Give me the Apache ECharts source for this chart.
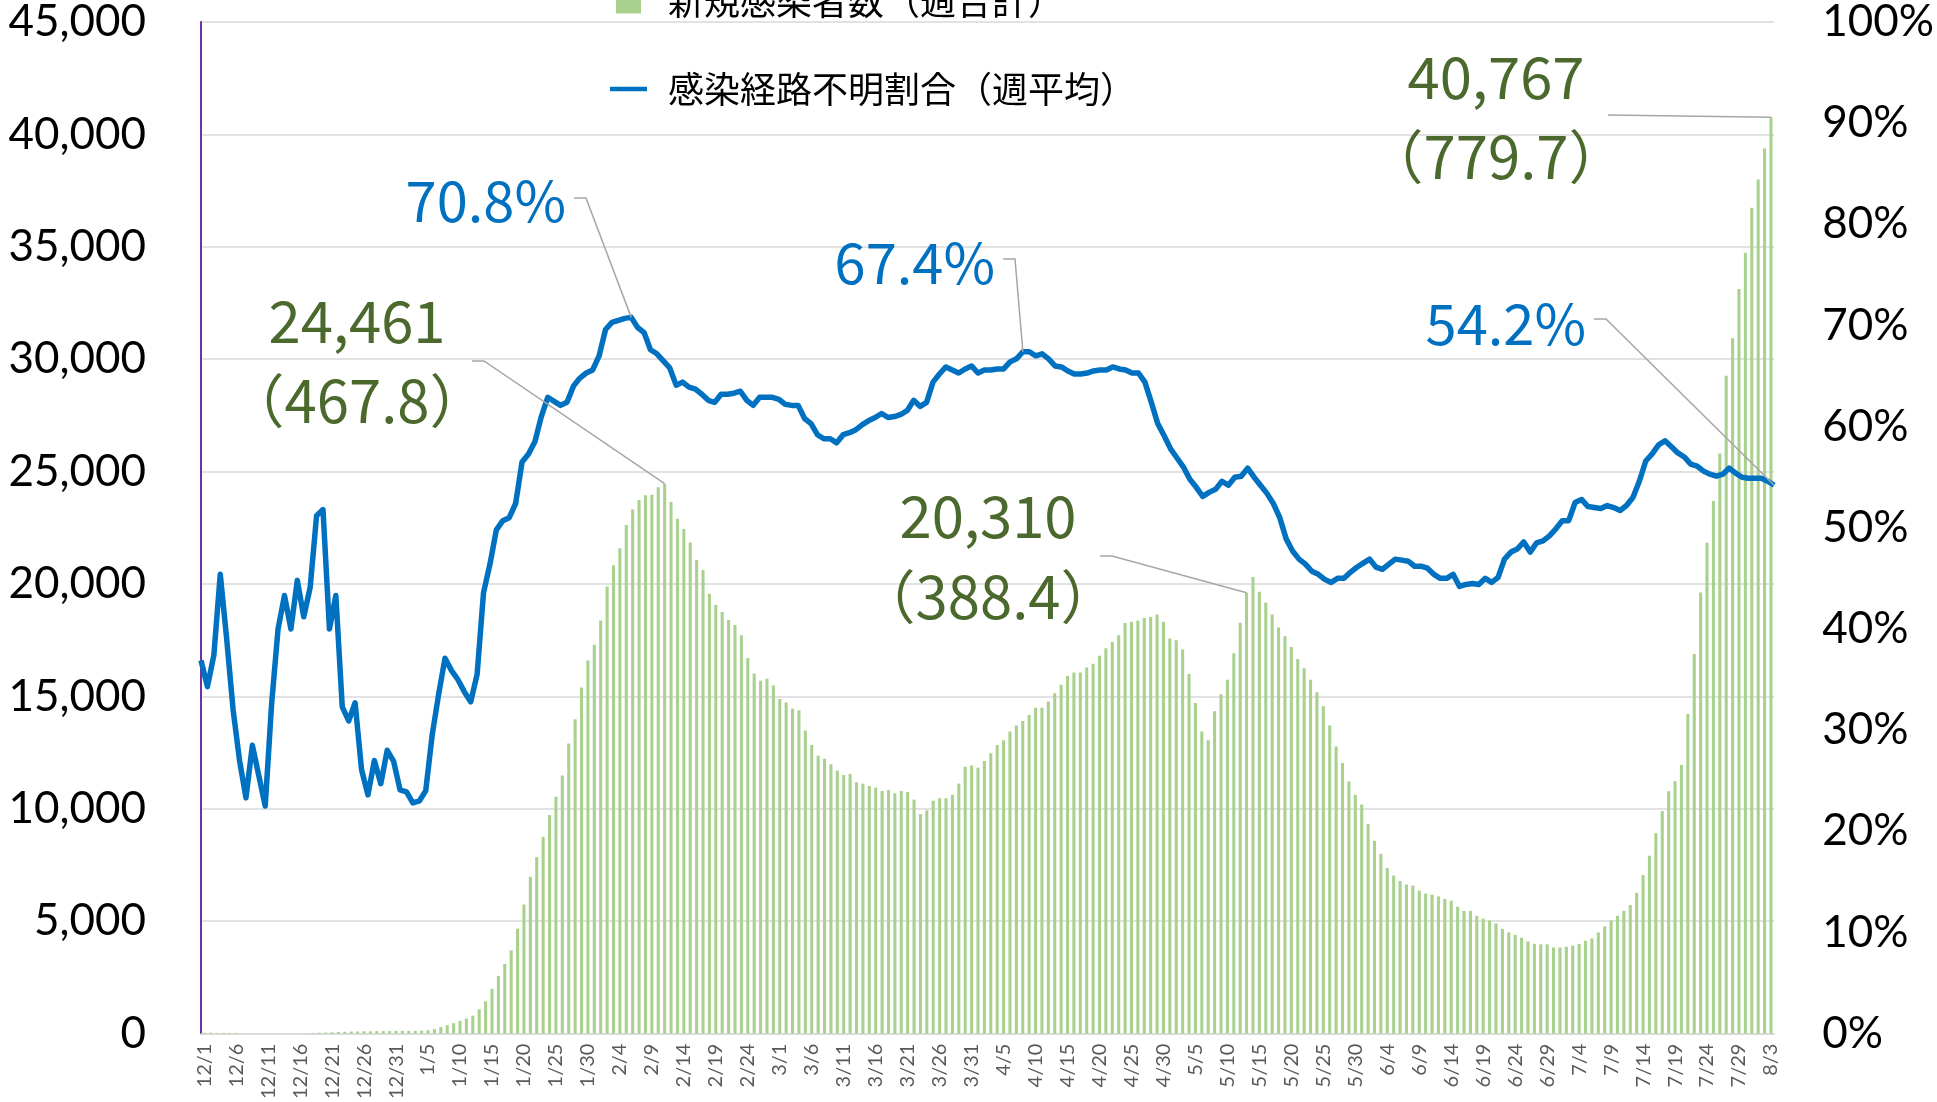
<!DOCTYPE html>
<html><head><meta charset="utf-8">
<script src="https://cdn.jsdelivr.net/npm/echarts/dist/echarts.min.js"></script>
<style>html,body{margin:0;padding:0;background:#fff}#c{width:1937px;height:1102px}</style>
</head><body><div id="c"></div>
<script>
// ---- categories (12/1 .. 8/3) ----
const months = [[12,31],[1,31],[2,28],[3,31],[4,30],[5,31],[6,30],[7,31],[8,3]];
const categories = [];
months.forEach(([m,n]) => { for (let d = 1; d <= n; d++) categories.push(m + '/' + d); });

// ---- 新規感染者数（週合計） by month ----
const casesDec = [40,40,30,30,30,30,0,0,0,0,0,0,0,0,0,0,0,30,40,50,60,70,80,90,90,100,100,110,110,110,120];
const casesJan = [120,120,120,130,150,200,290,370,465,570,670,800,1075,1435,1990,2565,3100,3700,4670,5740,6970,7850,8750,9720,10540,11480,12900,13980,15400,16600,17300];
const casesFeb = [18380,19890,20830,21590,22620,23310,23740,23950,23970,24300,24461,23650,22900,22450,21840,21070,20620,19570,19070,18750,18400,18170,17720,16710,16020,15700,15780,15480];
const casesMar = [14880,14730,14450,14380,13480,12840,12360,12230,11980,11700,11500,11550,11180,11120,11010,10940,10790,10840,10690,10790,10750,10410,9760,9930,10360,10470,10470,10620,11120,11870,11930];
const casesApr = [11830,12130,12470,12840,13050,13440,13700,13910,14170,14490,14490,14770,15140,15520,15910,16060,16060,16280,16450,16810,17140,17420,17720,18260,18320,18380,18490,18530,18640,18320];
const casesMay = [17570,17500,17090,16000,14710,13440,13050,14340,15090,15740,16920,18280,19610,20310,19650,19180,18640,18060,17670,17200,16660,16250,15740,15180,14560,13700,12770,12040,11220,10620,10190];
const casesJun = [9330,8580,8000,7370,7030,6790,6630,6580,6360,6230,6180,6100,5990,5910,5640,5460,5460,5240,5110,5030,4900,4660,4500,4390,4260,4100,3990,3970,3970,3830];
const casesJul = [3830,3860,3910,3990,4130,4230,4500,4770,5030,5240,5460,5720,6260,7050,7910,8920,9900,10780,11230,11950,14220,16880,19620,21830,23690,25800,29260,30930,33120,34740,36740];
const casesAug = [37990,39370,40767];

// ---- 感染経路不明割合（週平均） % by month ----
const rateDec = [36.9,34.3,37.4,45.4,39.0,32.0,27.0,23.3,28.5,25.5,22.5,32.6,40.0,43.3,40.0,44.8,41.2,44.1,51.2,51.8,40.0,43.3,32.3,30.9,32.7,26.1,23.6,27.0,24.7,28.0,26.9];
const rateJan = [24.1,23.9,22.8,23.0,24.0,29.5,33.5,37.1,35.9,35.0,33.8,32.8,35.5,43.6,46.4,49.8,50.7,51.0,52.4,56.5,57.3,58.5,61.0,62.9,62.5,62.1,62.4,64.0,64.8,65.3,65.6];
const rateFeb = [67.0,69.6,70.3,70.5,70.7,70.8,69.8,69.3,67.6,67.2,66.5,65.8,64.1,64.4,63.9,63.7,63.2,62.6,62.4,63.2,63.2,63.3,63.5,62.6,62.1,62.9,62.9,62.9];
const rateMar = [62.7,62.2,62.1,62.1,60.8,60.3,59.2,58.8,58.8,58.4,59.2,59.4,59.7,60.2,60.6,60.9,61.3,60.9,61.0,61.2,61.6,62.6,62.0,62.4,64.4,65.2,65.9,65.6,65.3,65.7,66.0];
const rateApr = [65.3,65.6,65.6,65.7,65.7,66.4,66.7,67.4,67.4,67.0,67.2,66.7,66.0,65.9,65.5,65.2,65.2,65.3,65.5,65.6,65.6,65.9,65.7,65.6,65.3,65.3,64.4,62.4,60.3,59.1];
const rateMay = [57.8,56.9,56.0,54.8,54.0,53.1,53.5,53.8,54.6,54.2,55.0,55.1,55.9,55.0,54.2,53.4,52.4,51.0,48.9,47.7,46.9,46.4,45.7,45.4,44.9,44.6,45.0,45.0,45.6,46.1,46.5];
const rateJun = [46.9,46.1,45.9,46.4,46.9,46.8,46.7,46.2,46.2,46.0,45.4,45.0,45.0,45.4,44.2,44.4,44.5,44.4,45.0,44.6,45.1,46.9,47.6,47.9,48.6,47.6,48.5,48.7,49.2,49.9];
const rateJul = [50.7,50.7,52.5,52.8,52.1,52.0,51.9,52.2,52.0,51.7,52.2,53.0,54.6,56.6,57.3,58.2,58.6,58.0,57.4,57.0,56.3,56.1,55.6,55.3,55.1,55.3,55.9,55.4,55.0,54.9,54.9];
const rateAug = [54.9,54.6,54.2];

const weeklyCases = [].concat(casesDec,casesJan,casesFeb,casesMar,casesApr,casesMay,casesJun,casesJul,casesAug);
const unknownRate = [].concat(rateDec,rateJan,rateFeb,rateMar,rateApr,rateMay,rateJun,rateJul,rateAug);

// ---- tick labels ----
const leftTicks = [0, 45000, 5000];
const rightTicks = [0, 100, 10];

// ---- callouts (label text + which data point they point at) ----
const rateCallouts = [
  {text:'70.8%', idx:67},
  {text:'67.4%', idx:128},
  {text:'54.2%', idx:245}
];
const caseCallouts = [
  {text:['24,461','（467.8）'], idx:72},
  {text:['20,310','（388.4）'], idx:163},
  {text:['40,767','（779.7）'], idx:245}
];

const NAME_BAR = '新規感染者数（週合計）';
const NAME_LINE = '感染経路不明割合（週平均）';

const chart = echarts.init(document.getElementById('c'));
chart.setOption({
  animation:false,
  backgroundColor:'#fff',
  grid:{left:201, right:154, top:22, bottom:66, containLabel:false},
  legend:{
    orient:'vertical', left:605, top:-25, itemGap:46, itemWidth:37, itemHeight:25,
    symbolKeepAspect:true,
    data:[{name:NAME_BAR, icon:'path://M0,0h25v25h-25z'},{name:NAME_LINE, icon:'path://M0,0h37v4.5h-37z'}],
    textStyle:{fontFamily:'Noto Sans CJK JP', fontSize:36, color:'#000', lineHeight:42, padding:[0,0,0,16]}
  },
  xAxis:[
    {type:'category', data:categories, boundaryGap:true,
     axisLine:{lineStyle:{color:'#d9d9d9', width:1.5}}, axisTick:{show:false},
     axisLabel:{interval:4, rotate:90, color:'#595959', fontFamily:'Lato', fontSize:20, margin:10}},
    {type:'category', data:categories, boundaryGap:false, show:false}
  ],
  yAxis:[
    {type:'value', min:leftTicks[0], max:leftTicks[1], interval:leftTicks[2], position:'left',
     axisLine:{show:true, lineStyle:{color:'#7030A0', width:2}}, axisTick:{show:false},
     splitLine:{lineStyle:{color:'#d9d9d9', width:1.5}},
     axisLabel:{margin:55, color:'#000', fontFamily:'Lato', fontSize:44, formatter:v => v.toLocaleString('en-US')}},
    {type:'value', min:rightTicks[0], max:rightTicks[1], interval:rightTicks[2], position:'right',
     splitLine:{show:false}, axisLine:{show:false}, axisTick:{show:false},
     axisLabel:{margin:48, color:'#000', fontFamily:'Lato', fontSize:44, formatter:'{value}%'}}
  ],
  series:[
    {name:NAME_BAR, type:'bar', data:weeklyCases, xAxisIndex:0, yAxisIndex:0, barWidth:'48%',
     itemStyle:{color:'#A9D18E'}},
    {name:NAME_LINE, type:'line', data:unknownRate, xAxisIndex:1, yAxisIndex:1, symbol:'none', showSymbol:false,
     lineStyle:{color:'#0070C0', width:5.5, join:'round'}, itemStyle:{color:'#0070C0'}, z:3}
  ]
});

// ---- callout layout (label anchors), leader lines end at data points ----
const rateLayout = [
  {tx:566, ty:201, sx:574, sy:198},
  {tx:995, ty:263, sx:1003, sy:259},
  {tx:1586, ty:324, sx:1594, sy:319}
];
const caseLayout = [
  {cx:357, ty:[321,401], sx:472, sy:361},
  {cx:988, ty:[516,597], sx:1100, sy:556},
  {cx:1496, ty:[77,157], sx:1608, sy:115, noStub:true}
];
const FONT_RATE = '56px "Noto Sans CJK JP"';
const FONT_CASE = '58px "Noto Sans CJK JP"';
const elements = [];
rateCallouts.forEach((c, k) => {
  const L = rateLayout[k];
  const p = chart.convertToPixel({xAxisIndex:1, yAxisIndex:1}, [c.idx, unknownRate[c.idx]]);
  elements.push({type:'text', z:10, style:{text:c.text, x:L.tx, y:L.ty, font:FONT_RATE, fill:'#0070C0', align:'right', verticalAlign:'middle', textAlign:'right', textVerticalAlign:'middle'}});
  elements.push({type:'polyline', z:9, shape:{points:[[L.sx,L.sy],[L.sx+12,L.sy],p]}, style:{stroke:'#A6A6A6', lineWidth:1.5, fill:null}});
});
caseCallouts.forEach((c, k) => {
  const L = caseLayout[k];
  const p = chart.convertToPixel({xAxisIndex:0, yAxisIndex:0}, [c.idx, weeklyCases[c.idx]]);
  c.text.forEach((t, j) => {
    elements.push({type:'text', z:10, style:{text:t, x:L.cx, y:L.ty[j], font:FONT_CASE, fill:'#4B692D', align:'center', verticalAlign:'middle', textAlign:'center', textVerticalAlign:'middle'}});
  });
  const pts = L.noStub ? [[L.sx,L.sy],p] : [[L.sx,L.sy],[L.sx+12,L.sy],p];
  elements.push({type:'polyline', z:9, shape:{points:pts}, style:{stroke:'#A6A6A6', lineWidth:1.5, fill:null}});
});
chart.setOption({graphic:{elements:elements}});
</script>
</body></html>
